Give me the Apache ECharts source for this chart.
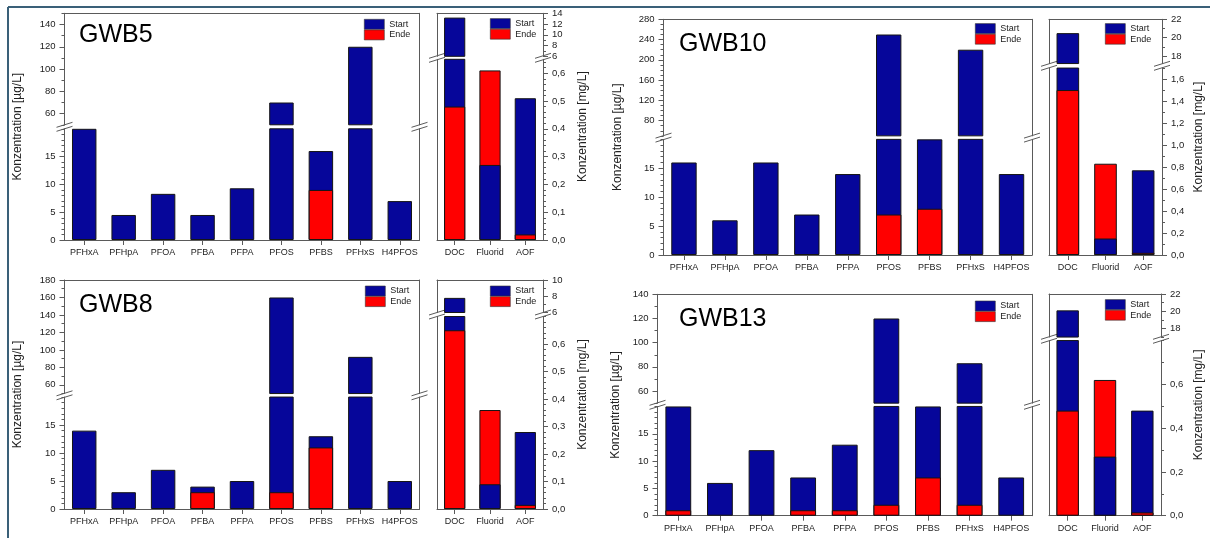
<!DOCTYPE html>
<html>
<head>
<meta charset="utf-8">
<script src="https://cdn.jsdelivr.net/npm/echarts@6/dist/echarts.min.js"></script>
<style>
  html, body { margin: 0; padding: 0; background: #fff; }
  #chart { width: 1210px; height: 538px; }
</style>
</head>
<body>
<div id="chart"></div>
<script>
// categories
const pfasNames = ['PFHxA', 'PFHpA', 'PFOA', 'PFBA', 'PFPA', 'PFOS', 'PFBS', 'PFHxS', 'H4PFOS'];
const sumNames = ['DOC', 'Fluorid', 'AOF'];

// PFAS, µg/L
const gwb5Start = [20, 4.5, 8.3, 4.5, 9.3, 70, 16, 120, 7];
const gwb5Ende = [0, 0, 0, 0, 0, 0, 9, 0, 0];
const gwb10Start = [16, 6, 16, 7, 14, 250, 20, 220, 14];
const gwb10Ende = [0, 0, 0, 0, 0, 7, 8, 0, 0];
const gwb8Start = [14, 3, 7, 4, 5, 160, 13, 92, 5];
const gwb8Ende = [0, 0, 0, 3, 0, 3, 11, 0, 0];
const gwb13Start = [20, 6, 12, 7, 13, 120, 20, 83, 7];
const gwb13Ende = [1, 0, 0, 1, 1, 2, 7, 2, 0];

// DOC / Fluorid / AOF, mg/L
const gwb5SumStart = [13.2, 0.27, 0.51];
const gwb5SumEnde = [0.48, 0.61, 0.02];
const gwb10SumStart = [20.5, 0.15, 0.77];
const gwb10SumEnde = [1.5, 0.83, 0.02];
const gwb8SumStart = [7.8, 0.09, 0.28];
const gwb8SumEnde = [0.65, 0.36, 0.015];
const gwb13SumStart = [20.1, 0.27, 0.48];
const gwb13SumEnde = [0.48, 0.62, 0.015];

// tick labels
const ugLowTicks = [0, 5, 10, 15];
const gwb5UgTop = [60, 80, 100, 120, 140];
const gwb10UgTop = [80, 120, 160, 200, 240, 280];
const gwb8UgTop = [60, 80, 100, 120, 140, 160, 180];
const gwb13UgTop = [60, 80, 100, 120, 140];
const gwb5MgLow = [0, 0.1, 0.2, 0.3, 0.4, 0.5, 0.6];
const gwb5MgTop = [6, 8, 10, 12, 14];
const gwb10MgLow = [0, 0.2, 0.4, 0.6, 0.8, 1.0, 1.2, 1.4, 1.6];
const gwb10MgTop = [18, 20, 22];
const gwb8MgLow = [0, 0.1, 0.2, 0.3, 0.4, 0.5, 0.6];
const gwb8MgTop = [6, 8, 10];
const gwb13MgLow = [0, 0.2, 0.4, 0.6];
const gwb13MgTop = [18, 20, 22];

const BLUE = '#06069a';
const RED = '#ff0000';
const FRAME = '#5a5a5a';
const INK = '#222';
const FONT = 'Liberation Sans, Arial, sans-serif';

// layout of the four panels (each: left PFAS plot, right sum-parameter plot)
const panels = [
  { title: 'GWB5', tx: 79, ty: 35.5,
    ug: { left: 64.5, right: 419.5, top: 13.3, bottom: 240, brk: 126.8, gap: 4, low: [0, 20], high: [50, 150],
          lowTicks: ugLowTicks, highTicks: gwb5UgTop, lowMinor: 1, highMinor: 10,
          start: gwb5Start, ende: gwb5Ende, legend: [364, 19], nameX: 18 },
    mg: { left: 437, right: 543, top: 13.3, bottom: 240, brk: 57.8, gap: 3, low: [0, 0.65], high: [6, 14],
          lowTicks: gwb5MgLow, highTicks: gwb5MgTop, lowMinor: 0.02, highMinor: 1,
          start: gwb5SumStart, ende: gwb5SumEnde, legend: [490, 18.3], nameX: 583 } },
  { title: 'GWB10', tx: 679, ty: 44,
    ug: { left: 663.5, right: 1032, top: 19.3, bottom: 255, brk: 137.6, gap: 3.5, low: [0, 20], high: [50, 280],
          lowTicks: ugLowTicks, highTicks: gwb10UgTop, lowMinor: 1, highMinor: 10,
          start: gwb10Start, ende: gwb10Ende, legend: [975, 23.3], nameX: 618 },
    mg: { left: 1049, right: 1162, top: 19.3, bottom: 255, brk: 65.8, gap: 4.5, low: [0, 1.7], high: [17.2, 22],
          lowTicks: gwb10MgLow, highTicks: gwb10MgTop, lowMinor: 0.1, highMinor: 1,
          start: gwb10SumStart, ende: gwb10SumEnde, legend: [1105, 23.3], nameX: 1199 } },
  { title: 'GWB8', tx: 79, ty: 305,
    ug: { left: 64.5, right: 419.5, top: 280, bottom: 509, brk: 395.3, gap: 3.5, low: [0, 20], high: [50, 180],
          lowTicks: ugLowTicks, highTicks: gwb8UgTop, lowMinor: 1, highMinor: 10,
          start: gwb8Start, ende: gwb8Ende, legend: [365, 285.7], nameX: 18 },
    mg: { left: 437, right: 543, top: 280, bottom: 509, brk: 314.5, gap: 4, low: [0, 0.7], high: [6, 10],
          lowTicks: gwb8MgLow, highTicks: gwb8MgTop, lowMinor: 0.02, highMinor: 1,
          start: gwb8SumStart, ende: gwb8SumEnde, legend: [490, 285.7], nameX: 583 } },
  { title: 'GWB13', tx: 679, ty: 319,
    ug: { left: 657.5, right: 1032, top: 294.3, bottom: 515.7, brk: 404.8, gap: 3.3, low: [0, 20], high: [50, 140],
          lowTicks: ugLowTicks, highTicks: gwb13UgTop, lowMinor: 1, highMinor: 10,
          start: gwb13Start, ende: gwb13Ende, legend: [975, 300.7], nameX: 616 },
    mg: { left: 1049, right: 1161, top: 294, bottom: 515.7, brk: 338.8, gap: 3.5, low: [0, 0.8], high: [17, 22],
          lowTicks: gwb13MgLow, highTicks: gwb13MgTop, lowMinor: 0.1, highMinor: 1,
          start: gwb13SumStart, ende: gwb13SumEnde, legend: [1105, 299.3], nameX: 1199 } }
];

const option = {
  animation: false,
  textStyle: { fontFamily: FONT },
  grid: [], xAxis: [], yAxis: [], series: [], legend: [], graphic: []
};

function minorValues (range, step, majors) {
  const out = [];
  const first = Math.ceil(range[0] / step - 1e-9);
  for (let i = first; i * step <= range[1] + 1e-9; i++) {
    const v = +(i * step).toFixed(4);
    if (!majors.some(m => Math.abs(m - v) < step / 10)) out.push(v);
  }
  return out;
}

function addSegment (sub, cats, isLow, side, decimals, barWidth) {
  const g = option.grid.length;
  const range = isLow ? sub.low : sub.high;
  const majors = isLow ? sub.lowTicks : sub.highTicks;
  const minors = minorValues(range, isLow ? sub.lowMinor : sub.highMinor, majors);
  const top = isLow ? sub.brk + sub.gap / 2 : sub.top;
  const bottom = isLow ? sub.bottom : sub.brk - sub.gap / 2;
  const line = { show: true, lineStyle: { color: FRAME, width: 1 } };

  option.grid.push({ left: sub.left, top: top, width: sub.right - sub.left, height: bottom - top, outerBoundsMode: 'none' });

  option.xAxis.push({
    type: 'category', gridIndex: g, data: cats, position: isLow ? 'bottom' : 'top', boundaryGap: true,
    axisLine: line,
    axisTick: { show: isLow, alignWithLabel: true, length: 5, lineStyle: { color: FRAME } },
    axisLabel: { show: isLow, interval: 0, fontSize: 9, margin: 8, color: INK },
    splitLine: { show: false }
  });

  const yMain = option.yAxis.length;
  const fmt = v => decimals ? v.toFixed(decimals).replace('.', ',') : String(v);
  option.yAxis.push(
    {
      // labels plus short ticks at every major and minor step
      type: 'value', gridIndex: g, position: side, offset: 0, min: range[0], max: range[1],
      axisLine: line,
      axisTick: { show: true, length: 3, customValues: majors.concat(minors), lineStyle: { color: FRAME } },
      axisLabel: { customValues: majors, formatter: fmt, fontSize: 9.5, margin: 9, color: INK },
      splitLine: { show: false }
    },
    {
      // longer ticks at the labelled values
      type: 'value', gridIndex: g, position: side, offset: 0, min: range[0], max: range[1],
      axisLine: { show: false },
      axisTick: { show: true, length: 5, customValues: majors, lineStyle: { color: FRAME } },
      axisLabel: { show: false },
      splitLine: { show: false }
    },
    {
      type: 'value', gridIndex: g, position: side === 'left' ? 'right' : 'left', min: range[0], max: range[1],
      axisLine: line, axisTick: { show: false }, axisLabel: { show: false }, splitLine: { show: false }
    }
  );

  // taller bar behind, shorter bar in front
  const back = cats.map((c, i) => {
    const s = sub.start[i], e = sub.ende[i];
    return { value: Math.max(s, e), itemStyle: { color: e > s ? RED : BLUE } };
  });
  const front = cats.map((c, i) => {
    const s = sub.start[i], e = sub.ende[i];
    const v = Math.min(s, e);
    return v > 0 ? { value: v, itemStyle: { color: e > s ? BLUE : RED } } : null;
  });
  const common = { type: 'bar', xAxisIndex: g, barWidth: barWidth, barGap: '-100%', clip: true, silent: true };
  option.series.push(
    Object.assign({ name: 'Start', yAxisIndex: yMain, data: back,
                    itemStyle: { color: BLUE, borderColor: '#151515', borderWidth: 1 } }, common),
    Object.assign({ name: 'Ende', yAxisIndex: yMain + 1, data: front,
                    itemStyle: { color: RED, borderColor: '#151515', borderWidth: 1 } }, common)
  );
}

function breakMark (x, y) {
  return {
    type: 'group', x: x, y: y, z: 100, silent: true,
    children: [
      { type: 'polygon', shape: { points: [[-8, 4.5], [8, -0.5], [8, -4.5], [-8, 0.5]] }, style: { fill: '#fff' } },
      { type: 'line', shape: { x1: -8, y1: 4.5, x2: 8, y2: -0.5 }, style: { stroke: FRAME, lineWidth: 1 } },
      { type: 'line', shape: { x1: -8, y1: 0.5, x2: 8, y2: -4.5 }, style: { stroke: FRAME, lineWidth: 1 } }
    ]
  };
}

function axisName (x, sub, text) {
  return {
    type: 'text', x: x, y: (sub.top + sub.bottom) / 2, rotation: Math.PI / 2, z: 50, silent: true,
    style: { text: text, font: '12px ' + FONT, fill: INK, align: 'center', verticalAlign: 'middle',
             textAlign: 'center', textVerticalAlign: 'middle' }
  };
}

function addLegend (pos) {
  option.legend.push({
    data: ['Start', 'Ende'], left: pos[0], top: pos[1], orient: 'vertical', padding: 0,
    itemWidth: 20, itemHeight: 10, itemGap: 0, icon: 'rect', selectedMode: false,
    itemStyle: { borderColor: '#333', borderWidth: 0.6 },
    textStyle: { fontSize: 9, color: INK, lineHeight: 10, fontFamily: FONT }
  });
}

panels.forEach(p => {
  addSegment(p.ug, pfasNames, false, 'left', 0, '62%');
  addSegment(p.ug, pfasNames, true, 'left', 0, '62%');
  addSegment(p.mg, sumNames, false, 'right', 0, '60%');
  addSegment(p.mg, sumNames, true, 'right', 1, '60%');
  addLegend(p.ug.legend);
  addLegend(p.mg.legend);

  option.graphic.push(
    { type: 'text', x: p.tx, y: p.ty, z: 50, silent: true,
      style: { text: p.title, font: '25px ' + FONT, fill: '#000', verticalAlign: 'middle', textVerticalAlign: 'middle' } },
    axisName(p.ug.nameX, p.ug, 'Konzentration [µg/L]'),
    axisName(p.mg.nameX, p.mg, 'Konzentration [mg/L]'),
    breakMark(p.ug.left, p.ug.brk), breakMark(p.ug.right, p.ug.brk),
    breakMark(p.mg.left, p.mg.brk), breakMark(p.mg.right, p.mg.brk)
  );
});

// slide frame lines
option.graphic.push(
  { type: 'line', silent: true, shape: { x1: 8, y1: 7, x2: 1210, y2: 7 }, style: { stroke: '#3a6078', lineWidth: 2 } },
  { type: 'line', silent: true, shape: { x1: 8, y1: 7, x2: 8, y2: 538 }, style: { stroke: '#3a6078', lineWidth: 2 } }
);

const chart = echarts.init(document.getElementById('chart'));
chart.setOption(option);
</script>
</body>
</html>
